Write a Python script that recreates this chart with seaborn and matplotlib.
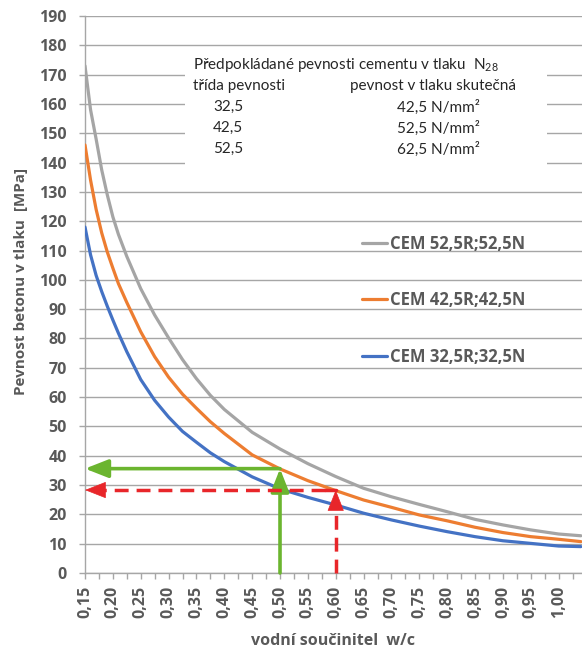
import numpy as np
import pandas as pd
import seaborn as sns
import matplotlib
matplotlib.use("Agg")
import matplotlib.pyplot as plt
from matplotlib.patches import Rectangle

# values
wc = [0.15, 0.16, 0.17, 0.18, 0.19, 0.20, 0.21, 0.225, 0.25, 0.275, 0.30, 0.325,
      0.35, 0.375, 0.40, 0.45, 0.50, 0.55, 0.60, 0.65, 0.70, 0.75, 0.80, 0.85,
      0.90, 0.95, 1.00, 1.04]
cem_32 = [118, 108.5, 101.5, 96, 91, 86.3, 81.8, 75.5, 66, 58.9, 53.2, 48.3,
          44.6, 41, 38, 32.8, 28.7, 25.8, 23.2, 20.4, 18.1, 16.0, 14.1, 12.4,
          11.0, 10.1, 9.2, 9.0]
cem_42 = [146, 134, 124, 116, 109.5, 104, 98.7, 92.3, 82.3, 73.8, 66.8, 61,
          56.2, 51.6, 47.6, 40.3, 35.5, 31.5, 28.1, 24.9, 22.4, 19.8, 17.8, 15.6,
          13.8, 12.4, 11.5, 10.7]
cem_52 = [173, 158, 148, 137.5, 129, 121.5, 115.5, 108, 97, 88, 80.2, 72.8,
          66.3, 60.6, 55.8, 48.0, 42.3, 37.3, 32.9, 28.9, 26.0, 23.4, 20.9, 18.3,
          16.4, 14.7, 13.3, 12.7]
names = ["CEM 52,5R;52,5N", "CEM 42,5R;42,5N", "CEM 32,5R;32,5N"]
colors = ["#A5A5A5", "#ED7D31", "#4472C4"]

xticks = [0.15, 0.20, 0.25, 0.30, 0.35, 0.40, 0.45, 0.50, 0.55, 0.60,
          0.65, 0.70, 0.75, 0.80, 0.85, 0.90, 0.95, 1.00]
xticklabels = ["0,15", "0,20", "0,25", "0,30", "0,35", "0,40", "0,45", "0,50", "0,55",
               "0,60", "0,65", "0,70", "0,75", "0,80", "0,85", "0,90", "0,95", "1,00"]
yticks = list(range(0, 200, 10))

# reading example (arrows)
green_wc, green_f = 0.50, 35.6
red_wc, red_f = 0.60, 28.3

table_title = "Předpokládané pevnosti cementu v tlaku  N$_{28}$"
table_head = ["třída pevnosti", "pevnost v tlaku skutečná"]
table_class = ["32,5", "42,5", "52,5"]
table_strength = ["42,5 N/mm²", "52,5 N/mm²", "62,5 N/mm²"]

df = pd.DataFrame({
    "wc": wc * 3,
    "f": cem_52 + cem_42 + cem_32,
    "cement": [names[0]] * len(wc) + [names[1]] * len(wc) + [names[2]] * len(wc),
})

sns.set_style("white")
plt.rcParams["font.family"] = ["Open Sans", "DejaVu Sans"]
plt.rcParams["mathtext.default"] = "regular"
txt = "#595959"
grid = "#A6A6A6"
bold = dict(family=["Open Sans", "DejaVu Sans"], weight="bold")

W, H = 582, 657
fig = plt.figure(figsize=(W / 100, H / 100), dpi=100)
ax = fig.add_axes([85 / W, 84 / H, 497 / W, 557 / H])

for y in yticks:
    ax.axhline(y, color=grid, lw=1, zorder=0)

sns.lineplot(data=df, x="wc", y="f", hue="cement", hue_order=names,
             palette=colors, linewidth=2.3, sort=False, ax=ax, zorder=3)

ax.set_xlim(0.15, 1.042)
ax.set_ylim(0, 190)
ax.set_xticks(xticks)
ax.set_xticklabels(xticklabels, rotation=90)
ax.set_xticks(np.arange(0.175, 1.04, 0.05), minor=True)
ax.set_yticks(yticks)
ax.tick_params(which="both", bottom=True, left=True, direction="out", length=4,
               width=1, color=grid)
ax.tick_params(axis="x", which="major", pad=5, labelsize=11.5, labelcolor=txt)
ax.tick_params(axis="y", pad=9, labelsize=11.5, labelcolor=txt)
for lab in ax.get_xticklabels() + ax.get_yticklabels():
    lab.set_fontweight("bold")
for s in ["top", "right"]:
    ax.spines[s].set_visible(False)
for s in ["left", "bottom"]:
    ax.spines[s].set_color(grid)
    ax.spines[s].set_linewidth(1)
ax.set_xlabel("")
ax.set_ylabel("")

# white box under the table text
ax.add_patch(Rectangle((0.201, 0.732), 0.728, 0.206, transform=ax.transAxes,
                       facecolor="white", edgecolor="none", zorder=1))

# arrows
green = "#6BB52F"
red = "#E8262A"
head = "-|>,head_length=1.4,head_width=0.55"
ax.annotate("", xy=(green_wc, green_f), xytext=(green_wc, 0),
            arrowprops=dict(arrowstyle=head, color=green, lw=2.6, shrinkA=0, shrinkB=0),
            annotation_clip=False, zorder=5)
ax.annotate("", xy=(0.15, green_f), xytext=(green_wc, green_f),
            arrowprops=dict(arrowstyle=head, color=green, lw=2.6, shrinkA=0, shrinkB=0),
            annotation_clip=False, zorder=5)
ax.plot([red_wc, red_wc], [0, red_f - 4], color=red, lw=2.5,
        ls=(0, (4, 2.3)), zorder=5, clip_on=False)
ax.plot([red_wc - 0.02, 0.17], [red_f, red_f], color=red, lw=2.5,
        ls=(0, (4, 2.3)), zorder=5, clip_on=False)
ax.plot([red_wc - 0.02, red_wc], [red_f, red_f], color=red, lw=2.5, zorder=5)
ax.annotate("", xy=(red_wc, red_f), xytext=(red_wc, red_f - 6),
            arrowprops=dict(arrowstyle=head, color=red, lw=0.5, shrinkA=0, shrinkB=0),
            annotation_clip=False, zorder=5)
ax.annotate("", xy=(0.15, red_f), xytext=(0.18, red_f),
            arrowprops=dict(arrowstyle=head, color=red, lw=0.5, shrinkA=0, shrinkB=0),
            annotation_clip=False, zorder=5)

# legend
handles, labels = ax.get_legend_handles_labels()
leg = ax.legend(handles, labels, frameon=False, loc="upper left",
                bbox_to_anchor=(0.557, 0.607), borderpad=0, borderaxespad=0,
                labelspacing=2.3, handlelength=1.5, handletextpad=0.2,
                prop=dict(family=["Open Sans", "DejaVu Sans"], weight="bold", size=12))
for t in leg.get_texts():
    t.set_color(txt)

# table text
fs = 11
tfam = ["Lato", "DejaVu Sans"]
fig.text(193 / W, 1 - 65 / H, table_title, fontsize=fs, va="center", family=tfam)
fig.text(193 / W, 1 - 86 / H, table_head[0], fontsize=fs, va="center", family=tfam)
fig.text(350 / W, 1 - 86 / H, table_head[1], fontsize=fs, va="center", family=tfam)
for i in range(3):
    yy = 1 - (107 + 21 * i) / H
    fig.text(213 / W, yy, table_class[i], fontsize=fs, va="center", family=tfam)
    fig.text(397 / W, yy, table_strength[i], fontsize=fs, va="center", family=tfam)

# axis titles
fig.text(21 / W, 1 - 281 / H, "Pevnost betonu v tlaku  [MPa]", rotation=90,
         ha="center", va="center", fontsize=11, color=txt, **bold)
fig.text(333 / W, 1 - 641 / H, "vodní součinitel  w/c", ha="center", va="center",
         fontsize=11.5, color=txt, **bold)

fig.savefig("out.png", dpi=100)
